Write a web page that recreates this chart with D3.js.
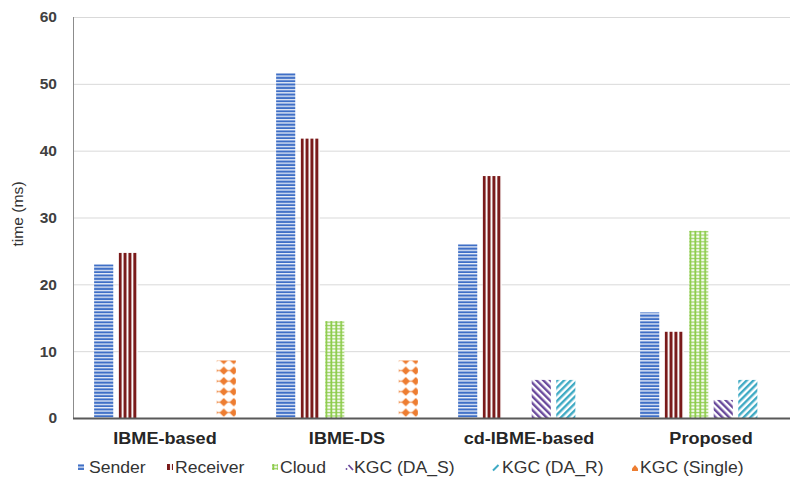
<!DOCTYPE html>
<html>
<head>
<meta charset="utf-8">
<script src="https://cdn.jsdelivr.net/npm/d3@7"></script>
<style>
  html, body { margin: 0; padding: 0; background: #fff; }
  svg { display: block; font-family: Arial, "Liberation Sans", sans-serif; }
</style>
</head>
<body>
<svg id="chart" width="790" height="487"></svg>
<script>
// ---- data ----
const categories = ["IBME-based", "IBME-DS", "cd-IBME-based", "Proposed"];
const seriesNames = ["Sender", "Receiver", "Cloud", "KGC (DA_S)", "KGC (DA_R)", "KGC (Single)"];
const sender   = [23.0, 51.6, 26.0, 15.8];
const receiver = [24.7, 41.8, 36.2, 12.9];
const cloud    = [null, 14.5, null, 28.0];
const kgcDAS   = [null, null, 5.7, 2.7];
const kgcDAR   = [null, null, 5.7, 5.7];
const kgcSingle= [8.6, 8.6, null, null];
const yTicks = [0, 10, 20, 30, 40, 50, 60];
const seriesValues = [sender, receiver, cloud, kgcDAS, kgcDAR, kgcSingle];
const seriesColors = ["#3F6FC6", "#7A1A1A", "#8CCB4A", "#6A4A9C", "#3FAAC4", "#ED7D31"];

// ---- layout ----
const svg = d3.select("#chart");
const plotTop = 17, plotBottom = 418, plotLeft = 73;
const x0 = d3.scaleBand().domain(categories).range([74, 802]).paddingInner(0).paddingOuter(0);
const x1 = d3.scaleBand().domain(seriesNames).range([0, x0.bandwidth()]).paddingInner(0.22).paddingOuter(0.82);
const y = d3.scaleLinear().domain([0, 60]).range([plotBottom, plotTop]);

// gridlines
const grid = svg.append("g").attr("transform", `translate(${plotLeft},0)`)
  .call(d3.axisLeft(y).tickValues(yTicks).tickSize(-(790 - plotLeft)).tickFormat(""));
grid.select(".domain").remove();
grid.selectAll(".tick line").attr("stroke", "#d9d9d9").attr("stroke-width", 1);

// y axis line
svg.append("line").attr("x1", plotLeft + 0.5).attr("x2", plotLeft + 0.5)
  .attr("y1", y(60)).attr("y2", plotBottom).attr("stroke", "#8c8c8c").attr("stroke-width", 1);

// y tick labels
const yAxis = svg.append("g").attr("transform", `translate(${plotLeft},0)`)
  .call(d3.axisLeft(y).tickValues(yTicks).tickSize(0).tickPadding(16));
yAxis.select(".domain").remove();
yAxis.selectAll("text").attr("font-size", 15.5).attr("font-weight", "bold")
  .attr("fill", "#404040").attr("font-family", "Arial, 'Liberation Sans', sans-serif");

// y title
svg.append("text").attr("transform", "translate(23,214) rotate(-90) scale(1.08,1)")
  .attr("text-anchor", "middle").attr("font-size", 14.5).attr("fill", "#333")
  .text("time (ms)");

// ---- patterns ----
const defs = svg.append("defs");
function makePattern(id, si, px, py) {
  const c = seriesColors[si];
  let p;
  if (si === 0) {
    p = defs.append("pattern").attr("id", id).attr("patternUnits", "userSpaceOnUse")
      .attr("x", px).attr("y", py).attr("width", 8).attr("height", 3.35);
    p.append("rect").attr("width", 8).attr("height", 3.35).attr("fill", "#fff");
    p.append("rect").attr("y", 0.4).attr("width", 8).attr("height", 2.2).attr("fill", c);
  } else if (si === 1) {
    p = defs.append("pattern").attr("id", id).attr("patternUnits", "userSpaceOnUse")
      .attr("x", px).attr("y", py).attr("width", 4.9).attr("height", 10);
    p.append("rect").attr("width", 4.9).attr("height", 10).attr("fill", "#fff");
    p.append("rect").attr("x", 0).attr("width", 3).attr("height", 10).attr("fill", c);
  } else if (si === 2) {
    p = defs.append("pattern").attr("id", id).attr("patternUnits", "userSpaceOnUse")
      .attr("x", px).attr("y", py).attr("width", 4.9).attr("height", 3.35);
    p.append("rect").attr("width", 4.9).attr("height", 3.35).attr("fill", "#fff");
    p.append("rect").attr("x", 0.4).attr("width", 1.8).attr("height", 3.35).attr("fill", c);
    p.append("rect").attr("y", 0.6).attr("width", 4.9).attr("height", 1.4).attr("fill", c).attr("opacity", 0.85);
  } else if (si === 3 || si === 4) {
    p = defs.append("pattern").attr("id", id).attr("patternUnits", "userSpaceOnUse")
      .attr("x", px).attr("y", py).attr("width", 4.8).attr("height", 10)
      .attr("patternTransform", `rotate(${si === 3 ? -45 : 45})`);
    p.append("rect").attr("width", 4.8).attr("height", 10).attr("fill", "#fff");
    p.append("rect").attr("width", 2.4).attr("height", 10).attr("fill", c);
  } else {
    p = defs.append("pattern").attr("id", id).attr("patternUnits", "userSpaceOnUse")
      .attr("x", px + 2).attr("y", py).attr("width", 10).attr("height", 10.5);
    p.append("rect").attr("width", 10).attr("height", 10.5).attr("fill", "#fff");
    p.append("rect").attr("x", 0).attr("y", 4.5).attr("width", 10).attr("height", 1.3).attr("fill", c).attr("opacity", 0.7);
    p.append("path").attr("d", "M5,1.0 L9.2,5.15 L5,9.3 L0.8,5.15 Z").attr("fill", c);
  }
}

// ---- bars ----
const barData = [];
categories.forEach((cat, ci) => {
  seriesNames.forEach((s, si) => {
    const v = seriesValues[si][ci];
    if (v != null) barData.push({cat, ci, s, si, v});
  });
});
barData.forEach((d, i) => {
  d.x = x0(d.cat) + x1(d.s);
  d.pid = "pat" + i;
  makePattern(d.pid, d.si, d.x, plotBottom);
});
svg.append("g").selectAll("rect").data(barData).join("rect")
  .attr("x", d => d.x)
  .attr("y", d => y(d.v))
  .attr("width", x1.bandwidth())
  .attr("height", d => plotBottom - y(d.v))
  .attr("fill", d => `url(#${d.pid})`);

// x axis line
svg.append("line").attr("x1", plotLeft).attr("x2", 790)
  .attr("y1", plotBottom + 0.5).attr("y2", plotBottom + 0.5)
  .attr("stroke", "#595959").attr("stroke-width", 2);

// category labels
svg.append("g").selectAll("text").data(categories).join("text")
  .attr("transform", d => `translate(${x0(d) + x0.bandwidth() / 2},444) scale(1.13,1)`)
  .attr("text-anchor", "middle").attr("font-size", 16).attr("font-weight", "bold")
  .attr("fill", "#262626")
  .text(d => d);

// ---- legend ----
const legendMarkX = [78, 167, 272, 346, 492, 632];
const legendTextX = [89, 175, 280, 354, 502, 640];
const lg = svg.append("g");
seriesNames.forEach((s, si) => {
  const mx = legendMarkX[si], my = 464;
  const c = seriesColors[si];
  if (si <= 2) {
    const pid = "lgpat" + si;
    makePattern(pid, si, mx, my);
    lg.append("rect").attr("x", mx).attr("y", my).attr("width", 6).attr("height", 6)
      .attr("fill", `url(#${pid})`);
  } else if (si === 3) {
    lg.append("circle").attr("cx", mx + 0.5).attr("cy", my + 5).attr("r", 0.9).attr("fill", c);
    lg.append("line").attr("x1", mx + 2.5).attr("y1", my + 1).attr("x2", mx + 7).attr("y2", my + 6)
      .attr("stroke", c).attr("stroke-width", 1.8);
  } else if (si === 4) {
    lg.append("line").attr("x1", mx + 1).attr("y1", my + 6.5).attr("x2", mx + 6.5).attr("y2", my + 1)
      .attr("stroke", c).attr("stroke-width", 2);
  } else {
    lg.append("path").attr("d", `M${mx + 3},${my + 1} L${mx + 6},${my + 4.5} L${mx + 6},${my + 7} L${mx},${my + 7} L${mx},${my + 4.5} Z`)
      .attr("fill", c);
  }
  lg.append("text").attr("transform", `translate(${legendTextX[si]},473) scale(1.1,1)`)
    .attr("font-size", 16).attr("fill", "#333").text(s);
});
</script>
</body>
</html>
